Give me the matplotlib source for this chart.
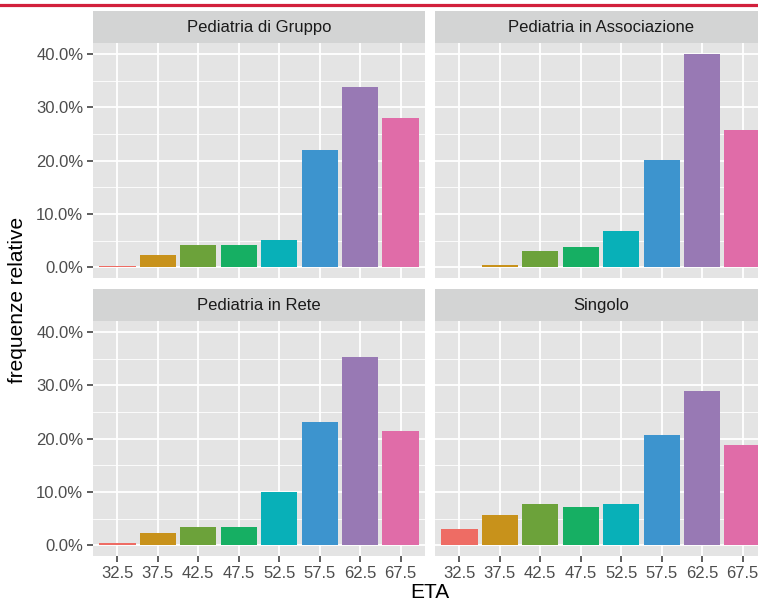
import numpy as np
import matplotlib
matplotlib.use("Agg")
import matplotlib.pyplot as plt
from matplotlib.lines import Line2D
from matplotlib.ticker import FixedLocator, FuncFormatter

plt.rcParams['font.family'] = ['Liberation Sans', 'DejaVu Sans']

# --- dati (frequenze relative in %) ---
eta = ["32.5", "37.5", "42.5", "47.5", "52.5", "57.5", "62.5", "67.5"]
pannelli = ["Pediatria di Gruppo", "Pediatria in Associazione",
            "Pediatria in Rete", "Singolo"]
gruppo = [0.3, 2.4, 4.2, 4.2, 5.2, 22.0, 33.9, 28.1]
associazione = [0.0, 0.45, 3.05, 3.9, 6.75, 20.15, 40.1, 25.8]
rete = [0.45, 2.4, 3.5, 3.5, 9.95, 23.1, 35.4, 21.55]
singolo = [3.0, 5.6, 7.8, 7.25, 7.8, 20.65, 29.05, 18.85]
valori = [gruppo, associazione, rete, singolo]

colori = ["#ee6c64", "#c8921b", "#6ca23a", "#16af63",
          "#08b0b8", "#3d94ce", "#9879b4", "#e06ca8"]

W, H = 758, 604
fig = plt.figure(figsize=(W / 100, H / 100), dpi=100)


def box(x0, y0, x1, y1):
    # pixel (dall'alto) -> frazioni della figura
    return [x0 / W, 1 - y1 / H, (x1 - x0) / W, (y1 - y0) / H]


colonne = [(93, 425), (435, 767)]
righe = [((11, 43), (43, 278)), ((289, 321), (321, 556))]

ymax = max(max(v) for v in valori)
ylim = (-0.05 * ymax, ymax * 1.05)
xpos = np.arange(len(eta))

for k, (titolo, vals) in enumerate(zip(pannelli, valori)):
    r, c = divmod(k, 2)
    (sy0, sy1), (py0, py1) = righe[r]
    x0, x1 = colonne[c]

    ax = fig.add_axes(box(x0, py0, x1, py1))
    ax.set_facecolor("#e4e4e4")
    ax.bar(xpos, vals, width=0.9, color=colori, zorder=3)
    ax.set_xlim(-0.6, len(eta) - 0.4)
    ax.set_ylim(*ylim)

    ax.yaxis.set_major_locator(FixedLocator([0, 10, 20, 30, 40]))
    ax.yaxis.set_minor_locator(FixedLocator([5, 15, 25, 35]))
    ax.yaxis.set_major_formatter(FuncFormatter(lambda v, p: f"{v:.1f}%"))
    ax.set_xticks(xpos)
    ax.set_xticklabels(eta)

    ax.grid(which="major", color="white", lw=1.3, zorder=0)
    ax.grid(which="minor", axis="y", color="white", lw=0.6, zorder=0)
    ax.set_axisbelow(True)
    for s in ax.spines.values():
        s.set_visible(False)

    ax.tick_params(axis="both", which="major", length=4, width=1.1,
                   color="#333333", labelcolor="#4d4d4d", labelsize=12, pad=3)
    ax.tick_params(axis="y", which="minor", length=0)
    if c == 1:
        ax.tick_params(axis="y", which="major", length=0, labelleft=False)
    if r == 0:
        ax.tick_params(axis="x", which="major", length=0, labelbottom=False)

    sax = fig.add_axes(box(x0, sy0, x1, sy1))
    sax.set_facecolor("#d3d4d4")
    sax.set_xticks([])
    sax.set_yticks([])
    for s in sax.spines.values():
        s.set_visible(False)
    sax.text(0.5, 0.47, titolo, ha="center", va="center",
             fontsize=12, color="#1a1a1a", transform=sax.transAxes)

fig.text(18 / W, 1 - 300 / H, "frequenze relative", rotation=90,
         ha="center", va="center", fontsize=15, color="black")
fig.text(430 / W, 1 - 593 / H, "ETA", ha="center", va="center",
         fontsize=15, color="black")

# linea rossa in alto
fig.add_artist(Line2D([0, 1], [1 - 4.5 / H, 1 - 4.5 / H],
                      transform=fig.transFigure, color="#d2203c", lw=2.3))

fig.savefig("out.png", dpi=100)
